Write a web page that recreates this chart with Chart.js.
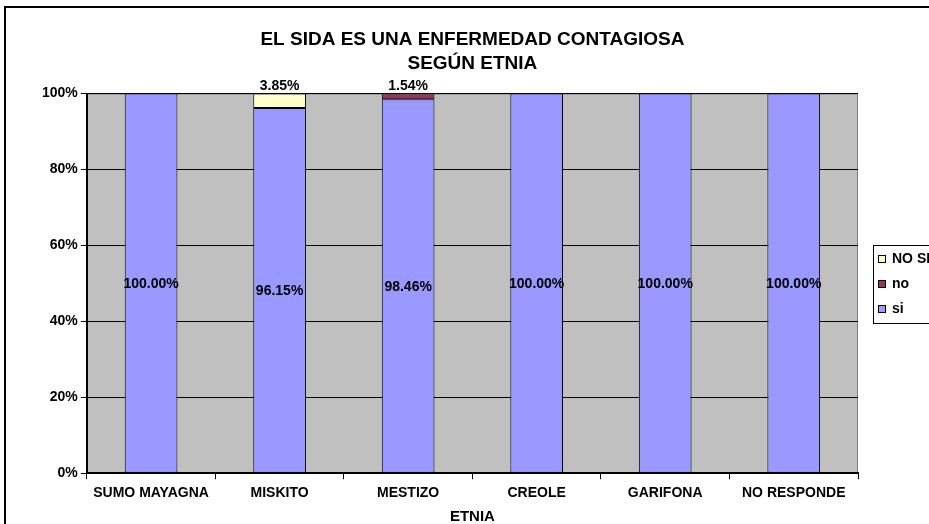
<!DOCTYPE html>
<html>
<head>
<meta charset="utf-8">
<script src="https://cdn.jsdelivr.net/npm/chart.js@4"></script>
<style>
  html, body { margin: 0; padding: 0; background: #fff; overflow: hidden; }
  #frame {
    position: absolute; left: 4px; top: 6px;
    width: 960px; height: 540px;
    border: 2px solid #000; background: #fff;
  }
</style>
</head>
<body>
<div id="frame"><canvas id="chart" width="960" height="540"></canvas></div>
<script>
const categories = ["SUMO MAYAGNA", "MISKITO", "MESTIZO", "CREOLE", "GARIFONA", "NO RESPONDE"]
const siValues = [100, 96.15, 98.46, 100, 100, 100]
const noValues = [0, 0, 1.54, 0, 0, 0]
const noSeValues = [0, 3.85, 0, 0, 0, 0]
const yTicks = [0, 20, 40, 60, 80, 100]

const FONT = "'Liberation Sans', Arial, sans-serif"

// gray plot background + gray top/right border
const plotBackground = {
  id: "plotBackground",
  beforeDraw(chart) {
    const { ctx, chartArea: a } = chart
    ctx.save()
    ctx.fillStyle = "#C0C0C0"
    ctx.fillRect(a.left, a.top, a.right - a.left, a.bottom - a.top)
    ctx.strokeStyle = "#808080"
    ctx.lineWidth = 1
    ctx.beginPath()
    ctx.moveTo(a.left, a.top + 0.5)
    ctx.lineTo(a.right - 0.5, a.top + 0.5)
    ctx.lineTo(a.right - 0.5, a.bottom)
    ctx.stroke()
    ctx.restore()
  },
}

const valueLabels = {
  id: "valueLabels",
  afterDatasetsDraw(chart) {
    const { ctx } = chart
    ctx.save()
    ctx.font = "bold 14px " + FONT
    ctx.fillStyle = "#000"
    ctx.textAlign = "center"
    ctx.textBaseline = "middle"
    chart.data.datasets.forEach((ds, i) => {
      chart.getDatasetMeta(i).data.forEach((bar, j) => {
        const v = ds.data[j]
        if (!v) return
        const txt = v.toFixed(2) + "%"
        if (i === 0) ctx.fillText(txt, bar.x, (bar.y + bar.base) / 2 + 1)
        else ctx.fillText(txt, bar.x, bar.y - 7)
      })
    })
    ctx.restore()
  },
}

const boxLegend = {
  id: "boxLegend",
  afterDraw(chart) {
    const { ctx, chartArea: a } = chart
    const x = a.right + 15, y = 237
    ctx.save()
    ctx.fillStyle = "#fff"
    ctx.strokeStyle = "#000"
    ctx.lineWidth = 1
    ctx.fillRect(x, y, 100, 78)
    ctx.strokeRect(x + 0.5, y + 0.5, 100, 78)
    ctx.font = "bold 14px " + FONT
    ctx.textBaseline = "middle"
    const items = chart.data.datasets.slice().reverse()
    items.forEach((ds, k) => {
      const cy = y + 14 + k * 25
      ctx.fillStyle = ds.backgroundColor
      ctx.fillRect(x + 5, cy - 4, 8, 8)
      ctx.strokeRect(x + 5.5, cy - 3.5, 7, 7)
      ctx.fillStyle = "#000"
      ctx.fillText(ds.label, x + 19, cy)
    })
    ctx.restore()
  },
}

new Chart(document.getElementById("chart").getContext("2d"), {
  type: "bar",
  data: {
    labels: categories,
    datasets: [
      { label: "si", data: siValues, backgroundColor: "#9999FF" },
      { label: "no", data: noValues, backgroundColor: "#993366" },
      { label: "NO SE", data: noSeValues, backgroundColor: "#FFFFCC" },
    ],
  },
  options: {
    responsive: false,
    animation: false,
    layout: { padding: { left: 33, right: 108, top: 0, bottom: 22 } },
    datasets: {
      bar: {
        categoryPercentage: 1,
        barPercentage: 0.41,
        borderColor: "#000",
        borderWidth: 1,
        borderSkipped: false,
      },
    },
    plugins: {
      legend: { display: false },
      tooltip: { enabled: false },
      title: {
        display: true,
        fullSize: false,
        text: ["EL SIDA ES UNA ENFERMEDAD CONTAGIOSA", "SEGÚN ETNIA"],
        color: "#000",
        font: { family: FONT, size: 19, weight: "bold", lineHeight: 1.25 },
        padding: { top: 20, bottom: 18 },
      },
    },
    scales: {
      x: {
        stacked: true,
        grid: { offset: true, drawOnChartArea: false, color: "#000", tickLength: 6 },
        border: { color: "#000", width: 2 },
        ticks: { color: "#000", font: { family: FONT, size: 14, weight: "bold" }, padding: 6, maxRotation: 0, autoSkip: false },
        title: { display: true, text: "ETNIA", color: "#000", font: { family: FONT, size: 15, weight: "bold" }, padding: { top: 0, bottom: 0 } },
      },
      y: {
        stacked: true,
        min: 0,
        max: 100,
        afterBuildTicks(axis) { axis.ticks = yTicks.map(v => ({ value: v })) },
        grid: { color: "#000", tickLength: 6 },
        border: { color: "#000", width: 2 },
        ticks: { color: "#000", font: { family: FONT, size: 14, weight: "bold" }, padding: 3, callback: v => v + "%" },
      },
    },
  },
  plugins: [plotBackground, valueLabels, boxLegend],
})
</script>
</body>
</html>
